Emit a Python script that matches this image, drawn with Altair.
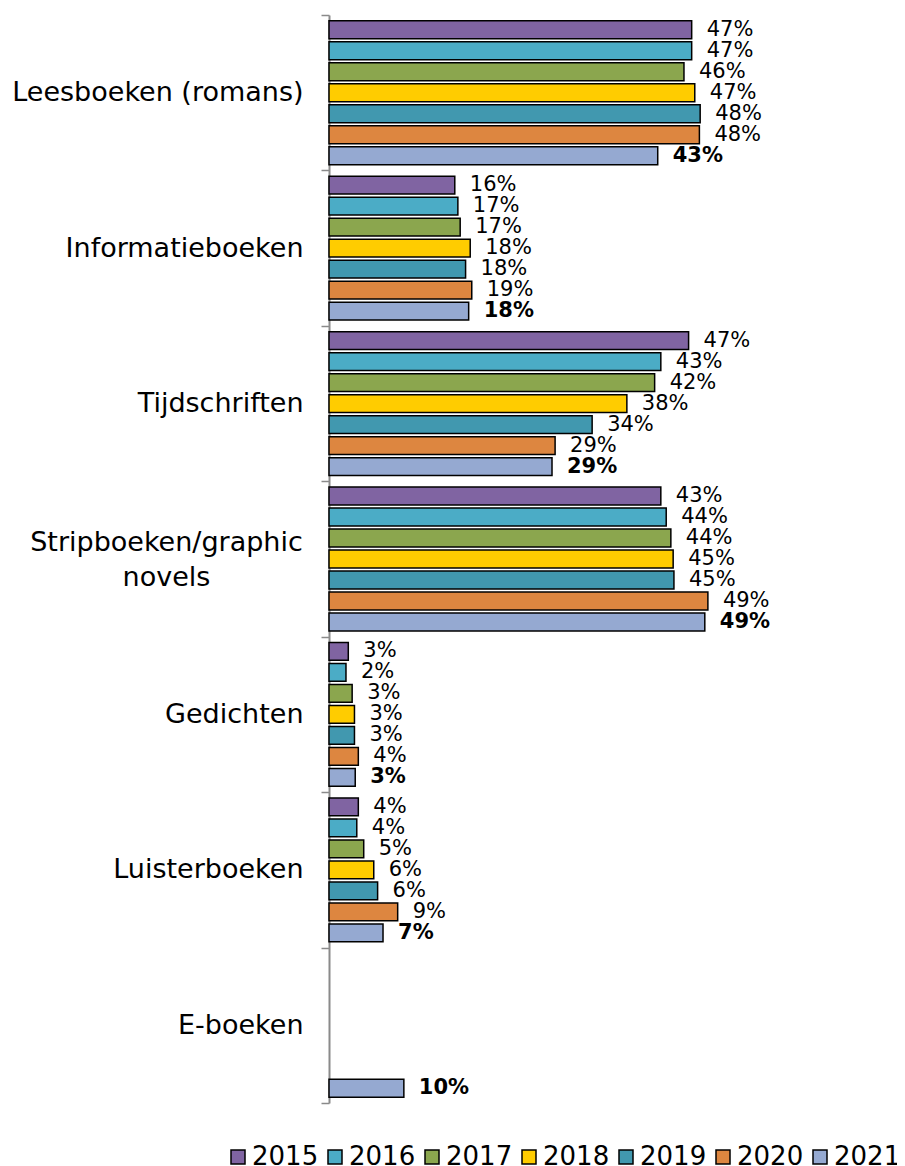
import altair as alt
import pandas as pd

categories = ["Leesboeken (romans)", "Informatieboeken", "Tijdschriften",
              "Stripboeken/graphic novels", "Gedichten", "Luisterboeken", "E-boeken"]
years = ["2015", "2016", "2017", "2018", "2019", "2020", "2021"]
colors = ["#8064A2", "#4BACC6", "#8BA64E", "#FFCC00", "#4198AF", "#DD8640", "#95A9D1"]

# bar lengths (percent) per year, in category order; None = no bar
v2015 = [47.0, 16.3, 46.6, 43.0, 2.5, 3.8, None]
v2016 = [47.0, 16.7, 43.0, 43.7, 2.2, 3.6, None]
v2017 = [46.0, 17.0, 42.2, 44.3, 3.0, 4.5, None]
v2018 = [47.4, 18.3, 38.6, 44.6, 3.3, 5.8, None]
v2019 = [48.1, 17.7, 34.1, 44.7, 3.3, 6.3, None]
v2020 = [48.0, 18.5, 29.3, 49.1, 3.8, 8.9, None]
v2021 = [42.6, 18.1, 28.9, 48.7, 3.4, 7.0, 9.7]

# printed labels per year
l2015 = ["47%", "16%", "47%", "43%", "3%", "4%", None]
l2016 = ["47%", "17%", "43%", "44%", "2%", "4%", None]
l2017 = ["46%", "17%", "42%", "44%", "3%", "5%", None]
l2018 = ["47%", "18%", "38%", "45%", "3%", "6%", None]
l2019 = ["48%", "18%", "34%", "45%", "3%", "6%", None]
l2020 = ["48%", "19%", "29%", "49%", "4%", "9%", None]
l2021 = ["43%", "18%", "29%", "49%", "3%", "7%", "10%"]

vals = [v2015, v2016, v2017, v2018, v2019, v2020, v2021]
labs = [l2015, l2016, l2017, l2018, l2019, l2020, l2021]

rows = []
for yr, vv, ll in zip(years, vals, labs):
    for cat, v, l in zip(categories, vv, ll):
        if v is not None:
            rows.append({"cat": cat, "year": yr, "value": v, "label": l})
df = pd.DataFrame(rows)

FONT = "DejaVu Sans"
STRIP = "datum.value == 'Stripboeken/graphic novels'"

y_enc = alt.Y(
    "cat:N", sort=categories, title=None,
    scale=alt.Scale(domain=categories, paddingInner=0, paddingOuter=0),
    axis=alt.Axis(
        tickBand="extent", tickSize=8, tickColor="#8a8a8a", tickWidth=1.5,
        domainColor="#8a8a8a", domainWidth=2,
        labelFont=FONT, labelFontSize=27, labelColor="black", labelLimit=400,
        labelPadding={"condition": {"test": STRIP, "value": 155}, "value": 18},
        labelAlign={"condition": {"test": STRIP, "value": "center"}, "value": "right"},
        labelOffset={"condition": {"test": STRIP, "value": -17}, "value": 0},
        labelExpr="datum.label == 'Stripboeken/graphic novels' ? ['Stripboeken/graphic', 'novels'] : datum.label",
        labelLineHeight=35,
    ),
)
yoff = alt.YOffset("year:N", sort=years,
                   scale=alt.Scale(domain=years, paddingInner=0.15, paddingOuter=0.275))
x_enc = alt.X("value:Q", scale=alt.Scale(domain=[0, 60]), axis=None)

base = alt.Chart(df)

bars = base.mark_bar(stroke="black", strokeWidth=1.5).encode(
    x=x_enc, y=y_enc, yOffset=yoff,
    color=alt.Color("year:N", sort=years,
                    scale=alt.Scale(domain=years, range=colors),
                    legend=alt.Legend(
                        orient="none", legendX=-104, legendY=1129, direction="horizontal",
                        title=None, symbolType="square", symbolSize=196,
                        symbolStrokeColor="black", symbolStrokeWidth=1.5, symbolOpacity=1,
                        labelFont=FONT, labelFontSize=26, labelColor="black",
                        labelOffset=1, columnPadding=3)),
)

txt_normal = base.transform_filter("datum.year != '2021'").mark_text(
    align="left", baseline="middle", dx=15, font=FONT, fontSize=21, color="black"
).encode(x=x_enc, y=y_enc, yOffset=yoff, text="label:N")

txt_bold = base.transform_filter("datum.year == '2021'").mark_text(
    align="left", baseline="middle", dx=15, font=FONT, fontSize=21, fontWeight="bold", color="black"
).encode(x=x_enc, y=y_enc, yOffset=yoff, text="label:N")

chart = alt.layer(bars, txt_normal, txt_bold).properties(
    width=463, height=1088,
    autosize=alt.AutoSizeParams(type="none"),
    padding={"left": 321, "top": 7, "right": 105, "bottom": 63},
).configure_view(stroke=None)

chart.save("out.html", embed_options={"renderer": "svg", "actions": False})
